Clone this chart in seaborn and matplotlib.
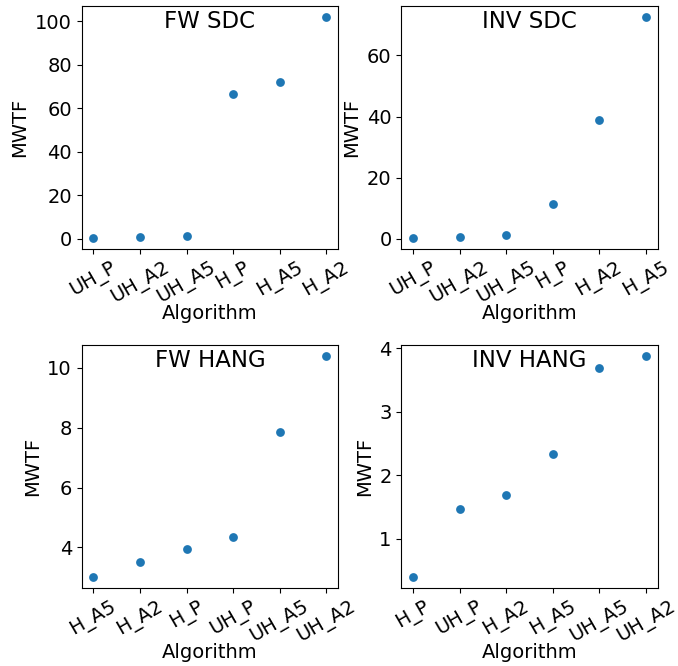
import matplotlib
matplotlib.use("Agg")
import matplotlib.pyplot as plt
import seaborn as sns
import pandas as pd

# MWTF per algorithm
fw_sdc_alg = ["UH_P", "UH_A2", "UH_A5", "H_P", "H_A5", "H_A2"]
fw_sdc_val = [0.6, 1.1, 1.4, 66.6, 72.2, 102.0]

inv_sdc_alg = ["UH_P", "UH_A2", "UH_A5", "H_P", "H_A2", "H_A5"]
inv_sdc_val = [0.33, 0.66, 1.1, 11.4, 39.0, 72.6]

fw_hang_alg = ["H_A5", "H_A2", "H_P", "UH_P", "UH_A5", "UH_A2"]
fw_hang_val = [3.02, 3.52, 3.93, 4.35, 7.87, 10.40]

inv_hang_alg = ["H_P", "UH_P", "H_A2", "H_A5", "UH_A5", "UH_A2"]
inv_hang_val = [0.405, 1.47, 1.69, 2.33, 3.69, 3.88]

panels = [
    ("FW SDC", fw_sdc_alg, fw_sdc_val),
    ("INV SDC", inv_sdc_alg, inv_sdc_val),
    ("FW HANG", fw_hang_alg, fw_hang_val),
    ("INV HANG", inv_hang_alg, inv_hang_val),
]

fig, axes = plt.subplots(2, 2, figsize=(6.78, 6.66), dpi=100)
fig.subplots_adjust(left=0.1205, right=0.970, top=0.991, bottom=0.1176,
                    wspace=0.247, hspace=0.397)

for ax, (title, alg, val) in zip(axes.flat, panels):
    df = pd.DataFrame({"Algorithm": alg, "MWTF": val})
    sns.scatterplot(data=df, x="Algorithm", y="MWTF", ax=ax, s=40,
                    color="#1f77b4", linewidth=0)
    ax.set_title(title, fontsize=16.5, y=0.91, pad=0)
    ax.set_xlabel("Algorithm", fontsize=14, labelpad=-2)
    ax.set_ylabel("MWTF", fontsize=14)
    ax.tick_params(axis="both", labelsize=14)
    ax.tick_params(axis="x", labelrotation=30)

fig.savefig("out.png", dpi=100)
